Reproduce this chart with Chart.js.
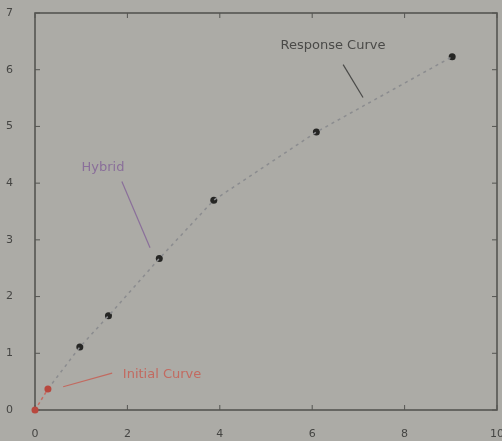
<!DOCTYPE html>
<html>
<head>
<meta charset="utf-8">
<script src="https://cdn.jsdelivr.net/npm/chart.js@4/dist/chart.umd.min.js"></script>
<style>
  html, body { margin: 0; padding: 0; background: #acaba6; }
  #wrap { width: 502px; height: 441px; }
</style>
</head>
<body>
<div id="wrap"><canvas id="c"></canvas></div>
<script>
// values
const earlyX = [0, 0.28];
const earlyY = [0, 0.37];
const mainX = [0.97, 1.59, 2.69, 3.87, 6.09, 9.03];
const mainY = [1.11, 1.66, 2.67, 3.70, 4.90, 6.23];
const xTicks = [0, 2, 4, 6, 8, 10];
const yTicks = [0, 1, 2, 3, 4, 5, 6, 7];

// labels with leader lines, anchored in data units
const notes = [
  { text: "Hybrid", color: "#8a6f9a", tx: 1.47, ty: 4.28, fx: 1.88, fy: 4.03, px: 2.49, py: 2.86 },
  { text: "Response Curve", color: "#4a4a48", tx: 6.45, ty: 6.42, fx: 6.67, fy: 6.09, px: 7.1, py: 5.51 },
  { text: "Initial Curve", color: "#c26a60", tx: 2.75, ty: 0.62, fx: 1.67, fy: 0.65, px: 0.61, py: 0.41 }
];

const pts = (xs, ys) => xs.map((x, i) => ({ x: x, y: ys[i] }));

const frame = {
  id: "frame",
  beforeDatasetsDraw(chart) {
    const ctx = chart.ctx, a = chart.chartArea;
    const xs = chart.scales.x, ys = chart.scales.y;
    ctx.save();
    ctx.strokeStyle = "#555552";
    ctx.lineWidth = 1.6;
    ctx.strokeRect(a.left, a.top, a.right - a.left, a.bottom - a.top);
    ctx.lineWidth = 1;
    xTicks.forEach(v => {
      const p = xs.getPixelForValue(v);
      ctx.beginPath();
      ctx.moveTo(p, a.bottom); ctx.lineTo(p, a.bottom - 5);
      ctx.moveTo(p, a.top); ctx.lineTo(p, a.top + 5);
      ctx.stroke();
    });
    yTicks.forEach(v => {
      const p = ys.getPixelForValue(v);
      ctx.beginPath();
      ctx.moveTo(a.left, p); ctx.lineTo(a.left + 5, p);
      ctx.moveTo(a.right, p); ctx.lineTo(a.right - 5, p);
      ctx.stroke();
    });
    ctx.font = "13px 'DejaVu Sans'";
    ctx.textBaseline = "middle";
    notes.forEach(n => {
      ctx.strokeStyle = n.color;
      ctx.lineWidth = 1.2;
      ctx.beginPath();
      ctx.moveTo(xs.getPixelForValue(n.fx), ys.getPixelForValue(n.fy));
      ctx.lineTo(xs.getPixelForValue(n.px), ys.getPixelForValue(n.py));
      ctx.stroke();
      ctx.fillStyle = n.color;
      ctx.textAlign = "center";
      ctx.fillText(n.text, xs.getPixelForValue(n.tx), ys.getPixelForValue(n.ty));
    });
    ctx.restore();
  }
};

new Chart(document.getElementById("c"), {
  type: "scatter",
  data: {
    datasets: [
      {
        label: "early",
        data: pts(earlyX, earlyY),
        showLine: true,
        borderColor: "#c56b62",
        borderWidth: 1.5,
        borderDash: [3, 3],
        backgroundColor: "#b8483e",
        pointRadius: 3.5,
        pointBorderWidth: 0,
        clip: false
      },
      {
        label: "main",
        data: pts(earlyX.slice(1).concat(mainX), earlyY.slice(1).concat(mainY)),
        showLine: true,
        borderColor: "#8b8c8f",
        borderWidth: 1.5,
        borderDash: [3, 4],
        pointRadius: 0
      },
      {
        label: "points",
        data: pts(mainX, mainY),
        backgroundColor: "#262624",
        pointRadius: 3.5,
        pointBorderWidth: 0
      }
    ]
  },
  options: {
    responsive: true,
    maintainAspectRatio: false,
    animation: false,
    layout: { padding: { top: 13, right: 5, left: 0, bottom: 0 } },
    plugins: { legend: { display: false }, tooltip: { enabled: false } },
    scales: {
      x: {
        type: "linear",
        min: 0, max: 10,
        afterBuildTicks: s => { s.ticks = xTicks.map(v => ({ value: v })); },
        afterFit: s => { s.height = 31; s.paddingLeft = 0; s.paddingRight = 0; },
        grid: { display: false },
        border: { display: false },
        ticks: { color: "#454543", font: { size: 11, family: "DejaVu Sans" }, padding: 10 }
      },
      y: {
        min: 0, max: 7,
        afterBuildTicks: s => { s.ticks = yTicks.map(v => ({ value: v })); },
        afterFit: s => { s.width = 35; s.paddingTop = 0; s.paddingBottom = 0; },
        grid: { display: false },
        border: { display: false },
        ticks: { color: "#454543", font: { size: 11, family: "DejaVu Sans" }, padding: 14 }
      }
    }
  },
  plugins: [frame]
});
</script>
</body>
</html>
